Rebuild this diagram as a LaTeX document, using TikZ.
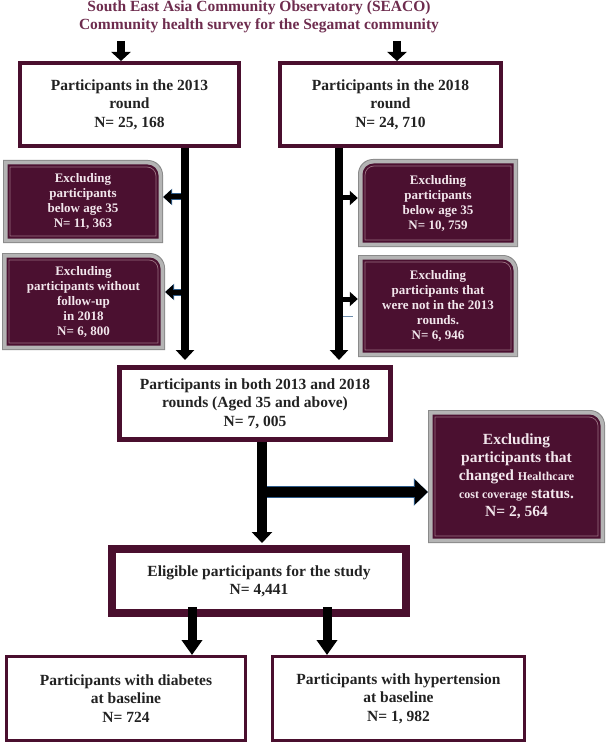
\documentclass[tikz,border=0pt]{standalone}
\usepackage{fontspec}
\setmainfont{Liberation Serif}
\usetikzlibrary{arrows.meta}
\definecolor{boxmaroon}{HTML}{4A0F2E}
\definecolor{darkfill}{HTML}{4B1030}
\definecolor{titlecol}{HTML}{6E2C4E}
\definecolor{framegray}{HTML}{B4B4B4}
\definecolor{framedark}{HTML}{8A8A8A}
\definecolor{innerline}{HTML}{9A7080}
\definecolor{dtext}{HTML}{F2E6EC}
\definecolor{textdark}{HTML}{222222}
\definecolor{edgeblue}{HTML}{2E5C8A}
\newcommand\rtrpath[2]{([shift={(#1,#1)}]path picture bounding box.south west) -- ([shift={(#1,-#1)}]path picture bounding box.north west) -- ([shift={(-#2-#1,-#1)}]path picture bounding box.north east) arc[start angle=90,end angle=0,radius=#2] -- ([shift={(-#1,#1)}]path picture bounding box.south east) -- cycle}
\newcommand\rtlpath[2]{([shift={(#1,#1)}]path picture bounding box.south west) -- ([shift={(#1,-#2-#1)}]path picture bounding box.north west) arc[start angle=180,end angle=90,radius=#2] -- ([shift={(-#1,-#1)}]path picture bounding box.north east) -- ([shift={(-#1,#1)}]path picture bounding box.south east) -- cycle}
\tikzset{
  titletext/.style={align=center, inner sep=0pt, text=titlecol, font=\fontsize{15.5}{18.5}\selectfont\bfseries},
  wbox/.style={draw=boxmaroon, fill=white, line width=4pt, align=center, inner sep=0pt, text=textdark, font=\fontsize{15.5}{18.5}\selectfont\bfseries},
  dboxbase/.style={fill=white, align=center, inner sep=0pt, text=dtext, font=\fontsize{13}{15}\selectfont\bfseries},
  dboxr/.style={dboxbase, path picture={
      \fill[framedark] \rtrpath{0pt}{15pt};
      \fill[framegray] \rtrpath{1pt}{14pt};
      \fill[darkfill] \rtrpath{4.5pt}{11pt};
      \draw[innerline, line width=0.7pt] \rtrpath{7pt}{9pt};}},
  dboxl/.style={dboxbase, path picture={
      \fill[framedark] \rtlpath{0pt}{15pt};
      \fill[framegray] \rtlpath{1pt}{14pt};
      \fill[darkfill] \rtlpath{4.5pt}{11pt};
      \draw[innerline, line width=0.7pt] \rtlpath{7pt}{9pt};}},
  toparrow/.style={line width=8pt, -{Triangle[width=19pt,length=9pt]}},
  vline/.style={line width=8pt, -{Triangle[width=18pt,length=10pt]}},
  sarrow/.style={line width=5pt, -{Triangle[width=14pt,length=8pt]}},
  sarrowedge/.style={edgeblue, line width=7pt, -{Triangle[width=16pt,length=9pt]}},
  bigv/.style={line width=10pt, -{Triangle[width=20pt,length=11pt]}},
  harrow/.style={line width=10pt, -{Triangle[width=24pt,length=13pt]}},
  harrowedge/.style={edgeblue, line width=12pt, -{Triangle[width=27pt,length=14pt]}},
  darrow/.style={line width=9pt, -{Triangle[width=20pt,length=15pt]}}
}
\begin{document}
\begin{tikzpicture}[x=1pt,y=-1pt]
\useasboundingbox[fill=white] (0,0) rectangle (606,743);
% nodes
\node[titletext] (title) at (259,17) {South East Asia Community Observatory (SEACO)\\Community health survey for the Segamat community};
\node[wbox, minimum width=219pt, minimum height=83pt] (r13) at (129.5,104.5) {Participants in the 2013\\round\\N= 25, 168};
\node[wbox, minimum width=221pt, minimum height=83pt] (r18) at (390.5,104.5) {Participants in the 2018\\round\\N= 24, 710};
\node[dboxr, minimum width=160pt, minimum height=83pt] (L1) at (83,201.5) {Excluding\\participants\\below age 35\\N= 11, 363};
\node[dboxr, minimum width=163pt, minimum height=97pt] (L2) at (83.5,301.5) {Excluding\\participants without\\follow-up\\in 2018\\N= 6, 800};
\node[dboxl, minimum width=160pt, minimum height=88pt] (R1) at (438,203) {Excluding\\participants\\below age 35\\N= 10, 759};
\node[dboxr, minimum width=160pt, minimum height=102pt] (R2) at (438,306) {Excluding\\participants that\\were not in the 2013\\rounds.\\N= 6, 946};
\node[wbox, line width=5pt, minimum width=271pt, minimum height=72pt] (mid) at (255,403.5) {Participants in both 2013 and 2018\\rounds (Aged 35 and above)\\N= 7, 005};
\node[dboxr, font=\fontsize{15.5}{18}\selectfont\bfseries, minimum width=177pt, minimum height=133pt] (big) at (516.5,476.5) {Excluding\\participants that\\changed {\fontsize{12}{18}\selectfont Healthcare}\\{\fontsize{12}{18}\selectfont cost coverage} status.\\N= 2, 564};
\node[wbox, line width=8pt, minimum width=294pt, minimum height=64pt] (elig) at (259,581) {Eligible participants for the study\\N= 4,441};
\node[wbox, line width=3pt, minimum width=239pt, minimum height=84pt] (dia) at (126,698.5) {Participants with diabetes\\at baseline\\N= 724};
\node[wbox, line width=3pt, minimum width=252pt, minimum height=84pt] (hyp) at (398.5,698.5) {Participants with hypertension\\at baseline\\N= 1, 982};
% connectors
\coordinate (a1) at (121,41);
\coordinate (a2) at (397,41);
\draw[toparrow] (a1) -- (a1 |- r13.north);
\draw[toparrow] (a2) -- (a2 |- r18.north);
\coordinate (lL) at (185,0);
\coordinate (lR) at (339,0);
\path ([yshift=5pt]mid.north) coordinate (midtop);
\draw[vline] (r13.south -| lL) -- (midtop -| lL);
\draw[vline] (r18.south -| lR) -- (midtop -| lR);
\coordinate (s1) at (181,197);
\coordinate (s2) at (181,292);
\coordinate (s3) at (343,198);
\coordinate (s4) at (343,299);
\draw[sarrowedge] (s1) -- (s1 -| L1.east);
\draw[sarrow] (s1) -- (s1 -| L1.east);
\draw[sarrowedge] (s2) -- (s2 -| L2.east);
\draw[sarrow] (s2) -- (s2 -| L2.east);
\draw[sarrow] (s3) -- (s3 -| R1.west);
\draw[sarrow] (s4) -- (s4 -| R2.west);
\draw[edgeblue!70, line width=1pt] (343,316) -- (353,316);
\coordinate (m1) at (262,0);
\path ([yshift=2pt]elig.north) coordinate (eligtop);
\draw[bigv] (mid.south -| m1) -- (eligtop -| m1);
\coordinate (h1) at (267,492);
\draw[harrowedge] (h1) -- (h1 -| big.west);
\draw[harrow] (h1) -- (h1 -| big.west);
\coordinate (d1) at (192,607);
\coordinate (d2) at (327,607);
\draw[darrow] (d1) -- (d1 |- dia.north);
\draw[darrow] (d2) -- (d2 |- hyp.north);
\end{tikzpicture}
\end{document}
